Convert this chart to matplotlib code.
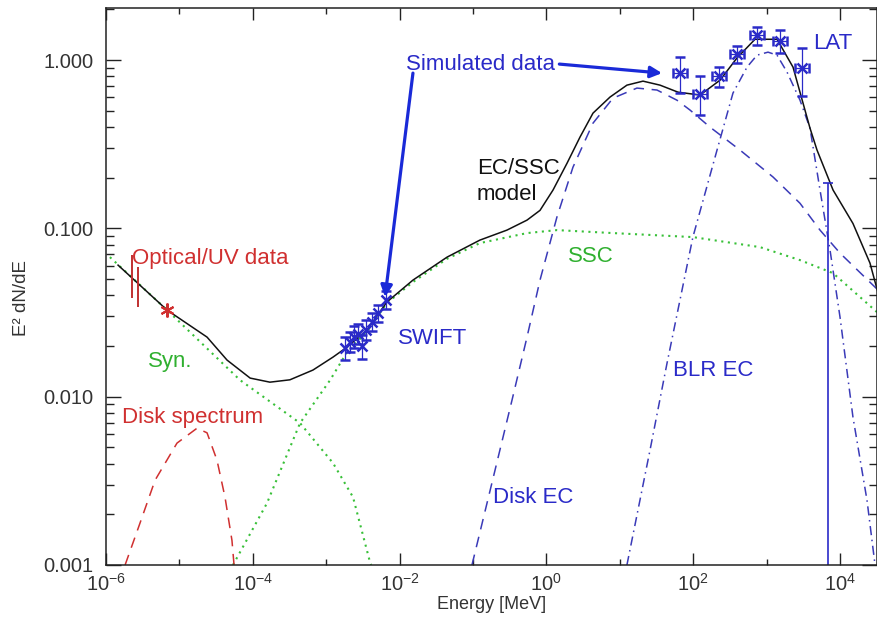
import math

import matplotlib
matplotlib.use("Agg")
import matplotlib.pyplot as plt
from matplotlib.ticker import FixedLocator, FuncFormatter, NullFormatter

plt.rcParams["font.family"] = ["Liberation Sans", "DejaVu Sans"]
plt.rcParams["mathtext.default"] = "regular"

# model curves (energy in MeV, E^2 dN/dE)
total_e = [1.46e-6, 6.8e-6, 2.38e-5, 4.46e-5, 9.2e-5, 1.71e-4, 3.2e-4, 6.6e-4, 1.24e-3,
           1.92e-3, 3.6e-3, 6.7e-3, 0.0152, 0.0443, 0.124, 0.29, 0.544, 0.818, 1.23, 1.91,
           2.87, 4.31, 7.35, 12.5, 20.7, 35.3, 62, 124, 232, 395, 695, 1387, 2290, 3900,
           4860, 8040, 15000, 25600, 33000]
total_f = [0.0605, 0.0327, 0.0226, 0.0165, 0.0129, 0.0122, 0.0126, 0.0144, 0.0172,
           0.0197, 0.0249, 0.0365, 0.0493, 0.0675, 0.0852, 0.0977, 0.112, 0.128, 0.169,
           0.244, 0.349, 0.484, 0.603, 0.710, 0.750, 0.710, 0.645, 0.620, 0.760, 1.03,
           1.33, 1.33, 0.908, 0.394, 0.292, 0.169, 0.107, 0.0622, 0.0413]

syn_e = [1.13e-6, 6.8e-6, 6.7e-5, 4.4e-4, 1.24e-3, 2.32e-3, 3.95e-3, 4.1e-3]
syn_f = [0.0675, 0.0327, 0.01255, 0.00697, 0.00403, 0.00253, 0.00104, 0.001]

ssc_e = [5.37e-5, 1.56e-4, 4.4e-4, 1.13e-3, 1.92e-3, 3.6e-3, 6.7e-3, 0.0152, 0.0443,
         0.124, 0.544, 1.39, 8.1, 99, 813, 2850, 8040, 33000]
ssc_f = [0.001, 0.00233, 0.00697, 0.01255, 0.0184, 0.0244, 0.036, 0.048, 0.066,
         0.0818, 0.0938, 0.0977, 0.0938, 0.0888, 0.0774, 0.0648, 0.0542, 0.0314]

disk_e = [1.82e-6, 2.9e-6, 4.66e-6, 9.27e-6, 1.74e-5, 2.38e-5, 3.25e-5, 4.18e-5, 5.2e-5, 5.55e-5]
disk_f = [0.001, 0.00177, 0.00319, 0.0053, 0.0065, 0.0061, 0.0042, 0.00253, 0.0014, 0.001]

disk_ec_e = [0.0968, 0.1995, 0.34, 0.544, 0.818, 1.39, 2.30, 4.31, 8.07, 17.1, 32.1, 60,
             90.4, 169, 434, 1223, 2850, 5340, 10000, 33000]
disk_ec_f = [0.001, 0.00366, 0.00955, 0.0226, 0.0493, 0.1167, 0.231, 0.422, 0.594, 0.682,
             0.664, 0.578, 0.505, 0.40, 0.292, 0.202, 0.141, 0.0977, 0.0713, 0.043]

blr_ec_e = [12.5, 25.8, 44, 99, 211, 348, 541, 740, 1045, 1387, 1897, 2850, 3900, 5340,
            7310, 10000, 15000, 23300, 30000]
blr_ec_f = [0.001, 0.00482, 0.01584, 0.0888, 0.292, 0.637, 0.909, 1.07, 1.115, 1.07,
            0.849, 0.578, 0.394, 0.169, 0.0743, 0.0297, 0.00757, 0.00243, 0.001]

# simulated data points
lat_e = [66, 124, 224, 395, 740, 1524, 3030]
lat_e_lo = [53, 100, 181, 318, 597, 1230, 2440]
lat_e_hi = [82, 154, 278, 490, 917, 1890, 3760]
lat_f = [0.837, 0.628, 0.803, 1.085, 1.41, 1.30, 0.896]
lat_f_lo = [0.637, 0.471, 0.691, 0.96, 1.23, 1.10, 0.611]
lat_f_hi = [1.04, 0.803, 0.909, 1.21, 1.57, 1.51, 1.18]

swift_e = [1.80e-3, 2.11e-3, 2.39e-3, 2.71e-3, 3.07e-3, 3.48e-3, 4.20e-3, 5.08e-3, 6.53e-3]
swift_f = [0.0194, 0.0211, 0.0226, 0.0235, 0.0200, 0.0249, 0.0277, 0.0314, 0.0375]
swift_f_lo = [0.0166, 0.0184, 0.0195, 0.0205, 0.0168, 0.0218, 0.0245, 0.0278, 0.0330]
swift_f_hi = [0.0225, 0.0242, 0.0262, 0.0270, 0.0232, 0.0284, 0.0313, 0.0352, 0.0425]

opt_e = [2.26e-6, 2.73e-6]
opt_f_lo = [0.0385, 0.0341]
opt_f_hi = [0.0694, 0.0589]
opt_star_e = [6.8e-6]
opt_star_f = [0.0327]

ul_e = 6870
ul_f = 0.186

x_major = [1e-6, 1e-4, 1e-2, 1e0, 1e2, 1e4]
x_minor = [1e-5, 1e-3, 1e-1, 1e1, 1e3]
y_major = [0.001, 0.01, 0.1, 1.0]
y_labels = ["0.001", "0.010", "0.100", "1.000"]

BLUE = "#2a2ac8"
RED = "#d03030"
GREEN = "#38c038"
TGREEN = "#30b030"


def asym(vals, lo, hi):
    return [[v - a for v, a in zip(vals, lo)], [b - v for v, b in zip(vals, hi)]]


fig = plt.figure(figsize=(8.78, 6.21), dpi=100)
ax = fig.add_axes([106 / 878, 56 / 621, 771 / 878, 557 / 621])
ax.set_xscale("log")
ax.set_yscale("log")

ax.plot(syn_e, syn_f, color=GREEN, lw=1.5, ls=(0, (1, 2.2)))
ax.plot(ssc_e, ssc_f, color=GREEN, lw=1.5, ls=(0, (1, 2.2)))
ax.plot(disk_e, disk_f, color=RED, lw=1.1, ls=(0, (7, 5)))
ax.plot(disk_ec_e, disk_ec_f, color="#3a3ab8", lw=1.1, ls=(0, (7, 5)))
ax.plot(blr_ec_e, blr_ec_f, color="#3a3ab8", lw=1.1, ls=(0, (6, 3, 1, 3)))
ax.plot(total_e, total_f, color="#111111", lw=1.1)

ax.vlines(opt_e, opt_f_lo, opt_f_hi, color="#c03030", lw=1.4)
ax.plot(opt_star_e, opt_star_f, ls="none", marker=(6, 2, 0), ms=10, mew=1.5, color=RED)

ax.errorbar(lat_e, lat_f, yerr=asym(lat_f, lat_f_lo, lat_f_hi), xerr=asym(lat_e, lat_e_lo, lat_e_hi),
            fmt="x", ms=7, mew=1.8, color=BLUE, ecolor=BLUE, elinewidth=0.9, capsize=3.5, capthick=0.9)
ax.errorbar(swift_e, swift_f, yerr=asym(swift_f, swift_f_lo, swift_f_hi),
            fmt="x", ms=7, mew=1.8, color=BLUE, ecolor=BLUE, elinewidth=0.9, capsize=3.5, capthick=0.9)

ax.vlines(ul_e, 1e-4, ul_f, color=BLUE, lw=1.2)
ax.plot([ul_e], [ul_f], marker="_", ms=7, mew=1.2, color=BLUE)

arrow = dict(arrowstyle="-|>", color="#1a2ad8", lw=2.3, mutation_scale=17, shrinkA=0, shrinkB=0)
ax.annotate("", xy=(6.33e-3, 0.0391), xytext=(0.0152, 0.837), arrowprops=arrow)
ax.annotate("", xy=(37.6, 0.837), xytext=(1.5, 0.947), arrowprops=arrow)

fs = 16
ax.text(0.0337, 0.551, "Optical/UV data", color=RED, fontsize=fs, va="center", transform=ax.transAxes)
ax.text(0.0545, 0.3645, "Syn.", color=TGREEN, fontsize=fs, va="center", transform=ax.transAxes)
ax.text(0.0208, 0.2657, "Disk spectrum", color=RED, fontsize=fs, va="center", transform=ax.transAxes)
ax.text(0.3787, 0.4075, "SWIFT", color=BLUE, fontsize=fs, va="center", transform=ax.transAxes)
ax.text(0.389, 0.8977, "Simulated data", color=BLUE, fontsize=fs, va="center", transform=ax.transAxes)
ax.text(0.4812, 0.7127, "EC/SSC", color="#111111", fontsize=fs, va="center", transform=ax.transAxes)
ax.text(0.4812, 0.6643, "model", color="#111111", fontsize=fs, va="center", transform=ax.transAxes)
ax.text(0.5992, 0.553, "SSC", color=TGREEN, fontsize=fs, va="center", transform=ax.transAxes)
ax.text(0.7354, 0.350, "BLR EC", color=BLUE, fontsize=fs, va="center", transform=ax.transAxes)
ax.text(0.502, 0.122, "Disk EC", color=BLUE, fontsize=fs, va="center", transform=ax.transAxes)
ax.text(0.917, 0.937, "LAT", color=BLUE, fontsize=fs, va="center", transform=ax.transAxes)

ax.set_xlim(1e-6, 3.19e4)
ax.set_ylim(0.001, 2.04)

ax.xaxis.set_major_locator(FixedLocator(x_major))
ax.xaxis.set_minor_locator(FixedLocator(x_minor))
ax.xaxis.set_major_formatter(FuncFormatter(lambda v, p: f"$10^{{{round(math.log10(v))}}}$"))
ax.xaxis.set_minor_formatter(NullFormatter())
ax.yaxis.set_major_locator(FixedLocator(y_major))
ax.yaxis.set_major_formatter(FuncFormatter(lambda v, p: y_labels[p] if p is not None else ""))
ax.yaxis.set_minor_formatter(NullFormatter())

ax.tick_params(axis="both", which="both", direction="in", top=True, right=True,
               color="#222222", width=1.0, labelcolor="#333333", labelsize=14.5)
ax.tick_params(axis="x", which="major", length=8.5, pad=6)
ax.tick_params(axis="x", which="minor", length=4.5)
ax.tick_params(axis="y", which="major", length=11, pad=9)
ax.tick_params(axis="y", which="minor", length=5.5)
for s in ax.spines.values():
    s.set_linewidth(1.1)
    s.set_color("#222222")

ax.set_xlabel("Energy [MeV]", fontsize=13, color="#333333")
ax.set_ylabel("E² dN/dE", fontsize=13.5, color="#333333")
ax.xaxis.set_label_coords(0.5, -0.056)
ax.yaxis.set_label_coords(-0.098, 0.48)

fig.savefig("out.png", dpi=100)
